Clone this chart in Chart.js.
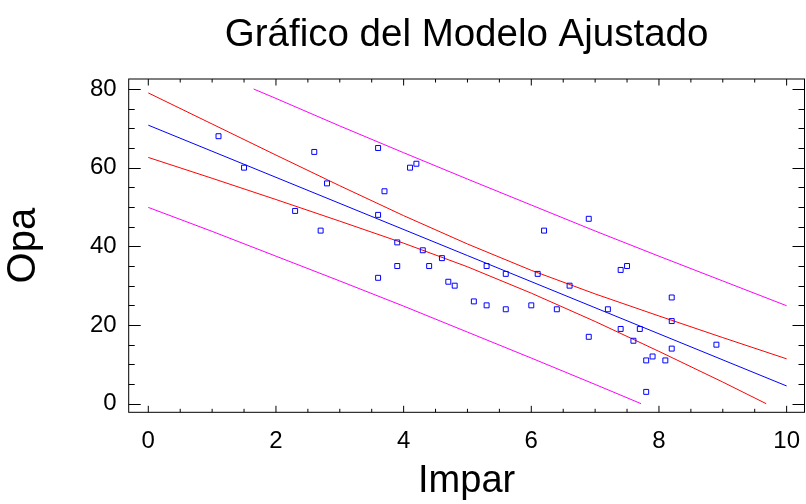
<!DOCTYPE html>
<html>
<head>
<meta charset="utf-8">
<script src="https://cdn.jsdelivr.net/npm/chart.js@4.4.1/dist/chart.umd.min.js"></script>
<style>
  html, body { margin: 0; padding: 0; background: #fff; }
  #wrap { width: 806px; height: 504px; }
</style>
</head>
<body>
<div id="wrap"><canvas id="modelChart" width="806" height="504"></canvas></div>
<script>
// observations
var impar = [1.1, 1.5, 2.3, 2.6, 2.7, 2.8, 3.6, 3.6, 3.6, 3.7, 3.9, 3.9, 4.1, 4.2, 4.3,
  4.4, 4.6, 4.7, 4.8, 5.1, 5.3, 5.3, 5.6, 5.6, 6.0, 6.1, 6.2, 6.4, 6.6, 6.9, 6.9, 7.2,
  7.4, 7.4, 7.5, 7.6, 7.7, 7.8, 7.9, 7.8, 8.1, 8.2, 8.2, 8.2, 8.9];
var opa = [68, 60, 49, 64, 44, 56, 65, 48, 32, 54, 41, 35, 60, 61, 39,
  35, 37, 31, 30, 26, 35, 25, 33, 24, 25, 33, 44, 24, 30, 47, 17, 24,
  19, 34, 35, 16, 19, 11, 12, 3, 11, 27, 21, 14, 15];

// fitted line
var fitX = [0, 10];
var fitY = [70.8, 4.5];

// confidence limits for the mean
var confHiX = [0, 1, 2, 3, 4, 5, 6, 7, 8, 9, 10];
var confHiY = [79.0, 71.1, 63.2, 55.4, 47.8, 40.6, 33.9, 27.9, 22.3, 16.8, 11.4];
var confLoX = [0, 1, 2, 3, 4, 5, 6, 7, 8, 9, 9.68];
var confLoY = [62.6, 57.3, 51.9, 46.4, 40.8, 34.8, 28.1, 20.9, 13.3, 5.5, 0];

// prediction limits
var predHiX = [1.65, 2, 3, 4, 5, 6, 7, 8, 9, 10];
var predHiY = [80, 77.6, 70.6, 63.8, 57.1, 50.5, 43.9, 37.5, 31.2, 24.9];
var predLoX = [0, 1, 2, 3, 4, 5, 6, 7, 7.72];
var predLoY = [49.9, 43.8, 37.5, 31.2, 24.8, 18.2, 11.6, 4.9, 0];

var xTicks = [0, 2, 4, 6, 8, 10];
var yTicks = [0, 20, 40, 60, 80];

function pts(xs, ys) {
  return xs.map(function (v, i) { return { x: v, y: ys[i] }; });
}

var FONT = '"Liberation Sans", Arial, sans-serif';

var frameTicks = {
  id: "frameTicks",
  afterDatasetsDraw: function (chart) {
    var ctx = chart.ctx, a = chart.chartArea;
    var sx = chart.scales.x, sy = chart.scales.y;
    ctx.save();
    ctx.strokeStyle = "#000";
    ctx.lineWidth = 1;
    ctx.strokeRect(a.left, a.top, a.right - a.left, a.bottom - a.top);
    ctx.beginPath();
    for (var v = 0; v <= 10.001; v += 0.5) {
      var px = sx.getPixelForValue(v);
      var len = Math.abs(v % 2) < 0.01 ? 6.5 : 3.5;
      ctx.moveTo(px, a.bottom); ctx.lineTo(px, a.bottom - len);
      ctx.moveTo(px, a.top); ctx.lineTo(px, a.top + len);
    }
    for (var w = 0; w <= 80; w += 5) {
      var py = Math.round(sy.getPixelForValue(w)) + 0.5;
      var l2 = w % 20 === 0 ? 12 : 6;
      ctx.moveTo(a.left, py); ctx.lineTo(a.left + l2, py);
      ctx.moveTo(a.right, py); ctx.lineTo(a.right - l2, py);
    }
    ctx.stroke();

    // chart title
    ctx.fillStyle = "#000";
    ctx.font = "38.5px " + FONT;
    ctx.textAlign = "center";
    ctx.textBaseline = "alphabetic";
    ctx.fillText("Gráfico del Modelo Ajustado", (a.left + a.right) / 2, 45.5);
    ctx.restore();
  }
};

var ctx = document.getElementById("modelChart").getContext("2d");
var modelChart = new Chart(ctx, {
  type: "scatter",
  data: {
    datasets: [
      {
        data: pts(impar, opa),
        pointStyle: "rect",
        pointRadius: 3.5,
        pointBorderWidth: 1,
        borderColor: "#0000ff",
        backgroundColor: "rgba(0,0,0,0)",
        showLine: false
      },
      { data: pts(fitX, fitY), showLine: true, borderColor: "#0000ff", borderWidth: 1, pointRadius: 0 },
      { data: pts(confHiX, confHiY), showLine: true, borderColor: "#ff0000", borderWidth: 1, pointRadius: 0 },
      { data: pts(confLoX, confLoY), showLine: true, borderColor: "#ff0000", borderWidth: 1, pointRadius: 0 },
      { data: pts(predHiX, predHiY), showLine: true, borderColor: "#ff00ff", borderWidth: 1, pointRadius: 0 },
      { data: pts(predLoX, predLoY), showLine: true, borderColor: "#ff00ff", borderWidth: 1, pointRadius: 0 }
    ]
  },
  options: {
    responsive: false,
    animation: false,
    layout: { autoPadding: false, padding: { top: 79, right: 1.5, left: 0, bottom: 0 } },
    plugins: {
      legend: { display: false },
      tooltip: { enabled: false }
    },
    scales: {
      x: {
        type: "linear",
        min: -0.307,
        max: 10.28,
        afterBuildTicks: function (s) { s.ticks = xTicks.map(function (v) { return { value: v }; }); },
        afterFit: function (s) { s.height = 91.7; s.paddingLeft = 0; s.paddingRight = 0; },
        grid: { display: false, drawTicks: false },
        border: { display: false },
        ticks: { color: "#000", font: { family: FONT, size: 24 }, padding: 15, maxRotation: 0 },
        title: { display: true, text: "Impar", color: "#000", font: { family: FONT, size: 38 }, padding: { top: 0, bottom: 0 } }
      },
      y: {
        type: "linear",
        min: -2.19,
        max: 82.54,
        afterBuildTicks: function (s) { s.ticks = yTicks.map(function (v) { return { value: v }; }); },
        afterFit: function (s) { s.width = 128.7; s.paddingTop = 0; s.paddingBottom = 0; },
        grid: { display: false, drawTicks: false },
        border: { display: false },
        ticks: { color: "#000", font: { family: FONT, size: 24 }, padding: 12 },
        title: { display: true, text: "Opa", color: "#000", font: { family: FONT, size: 40 }, padding: { top: 0, bottom: 0 } }
      }
    }
  },
  plugins: [frameTicks]
});
</script>
</body>
</html>
